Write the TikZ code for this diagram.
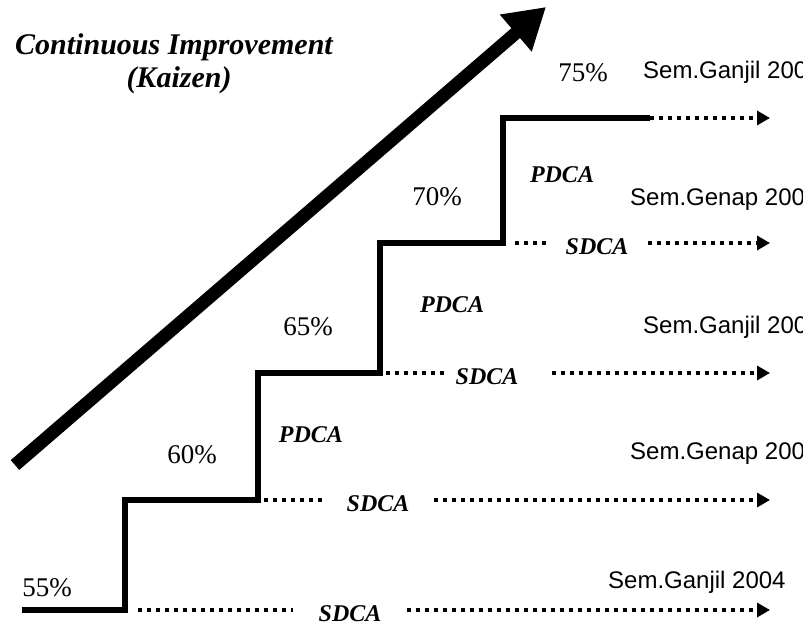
\documentclass[tikz,border=0pt]{standalone}
\usepackage{fontspec}
\setmainfont{Liberation Serif}
\newfontfamily\semfont{Liberation Sans}
\usetikzlibrary{arrows.meta}

\begin{document}
\begin{tikzpicture}[x=1pt,y=-1pt,
        stair/.style={line width=5.5pt},
        dotline/.style={line width=4pt,dash pattern=on 4pt off 5pt},
        dotarrow/.style={dotline,-{Triangle[length=13pt,width=14pt]}},
        pct/.style={font=\fontsize{27}{32}\selectfont},
        cyclelabel/.style={font=\fontsize{24}{28}\selectfont\bfseries\itshape,inner sep=0pt},
        titlelabel/.style={font=\fontsize{30}{35}\selectfont\bfseries\itshape,inner sep=0pt},
        semlabel/.style={font=\semfont\fontsize{24}{29}\selectfont,anchor=west,inner sep=0pt}]
    \clip (0,0) rectangle (803,626);

    % kaizen arrow and title
    \coordinate (kz0) at (15,465);
    \coordinate (kz1) at (546,7);
    \draw[line width=13pt,-{Triangle[length=40pt,width=46pt]}] (kz0) -- (kz1);
    \node[titlelabel] (title) at (174,47) {Continuous Improvement};
    \node[titlelabel] (kaizen) at (179,80) {(Kaizen)};

    % stairs
    \coordinate (s0) at (22,610);
    \coordinate (c1) at (125,610);
    \coordinate (c1t) at (125,500);
    \coordinate (c2) at (258,500);
    \coordinate (c2t) at (258,373);
    \coordinate (c3) at (380,373);
    \coordinate (c3t) at (380,243);
    \coordinate (c4) at (503,243);
    \coordinate (c4t) at (503,118);
    \coordinate (s5) at (650,118);
    \draw[stair] (s0) -- (c1) -- (c1t) -- (c2) -- (c2t) -- (c3) -- (c3t) -- (c4) -- (c4t) -- (s5);

    % percentages
    \node[pct] (p55) at (47,588) {55\%};
    \node[pct] (p60) at (192,455) {60\%};
    \node[pct] (p65) at (308,327) {65\%};
    \node[pct] (p70) at (437,197) {70\%};
    \node[pct] (p75) at (583,73) {75\%};

    % PDCA
    \node[cyclelabel] (pd1) at (311,435) {PDCA};
    \node[cyclelabel] (pd2) at (452,305) {PDCA};
    \node[cyclelabel] (pd3) at (562,175) {PDCA};

    % SDCA rows
    \coordinate (e1) at (770,610);
    \coordinate (e2) at (770,500);
    \coordinate (e3) at (770,373);
    \coordinate (e4) at (770,243);
    \coordinate (e5) at (770,118);
    \node[cyclelabel] (sd1) at (350,614) {SDCA};
    \node[cyclelabel] (sd2) at (378,504) {SDCA};
    \node[cyclelabel] (sd3) at (487,377) {SDCA};
    \node[cyclelabel] (sd4) at (597,247) {SDCA};
    \draw[dotline] ([xshift=13pt]c1) -- ([xshift=-25pt]sd1.west |- c1);
    \draw[dotarrow] ([xshift=25pt]sd1.east |- c1) -- (e1);
    \draw[dotline] ([xshift=6pt]c2) -- ([xshift=-23pt]sd2.west |- c2);
    \draw[dotarrow] ([xshift=24pt]sd2.east |- c2) -- (e2);
    \draw[dotline] ([xshift=6pt]c3) -- ([xshift=-7pt]sd3.west |- c3);
    \draw[dotarrow] ([xshift=33pt]sd3.east |- c3) -- (e3);
    \draw[dotline] ([xshift=12pt]c4) -- ([xshift=-16pt]sd4.west |- c4);
    \draw[dotarrow] ([xshift=19pt]sd4.east |- c4) -- (e4);
    \draw[dotarrow] (s5) -- (e5);

    % semesters
    \node[semlabel] (sem1) at (608,582) {Sem.Ganjil 2004};
    \node[semlabel] (sem2) at (630,454) {Sem.Genap 200};
    \node[semlabel] (sem3) at (643,327) {Sem.Ganjil 200};
    \node[semlabel] (sem4) at (630,200) {Sem.Genap 200};
    \node[semlabel] (sem5) at (643,72) {Sem.Ganjil 200};
\end{tikzpicture}
\end{document}
